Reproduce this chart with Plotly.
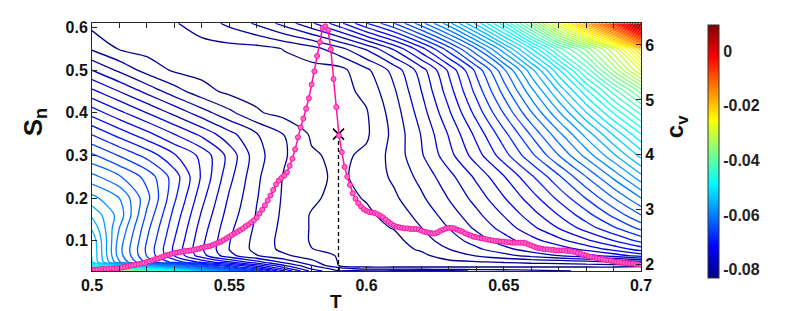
import plotly.graph_objects as go

# ---------------- data ----------------
T_grid = [0.50, 0.51, 0.52, 0.53, 0.54, 0.55, 0.56, 0.57, 0.58, 0.59, 0.60,
          0.61, 0.62, 0.63, 0.64, 0.65, 0.66, 0.67, 0.68, 0.69, 0.70]
S_grid = [0.029, 0.035, 0.042, 0.05, 0.065, 0.08, 0.10, 0.13, 0.16, 0.20,
          0.25, 0.30, 0.35, 0.40, 0.45, 0.50, 0.55, 0.61]

# free-energy surface, in units of 1e-3 (rows follow S_grid, columns T_grid)
F_milli = [
    [-25, -32, -40, -47, -54, -60, -66, -72, -77, -79.5, -78.0, -78.4, -78.8, -79.2, -79.6, -80.0, -80.4, -80.8, -81.2, -81.6, -82.0],
    [-37.8, -43.2, -49.5, -54.9, -60.4, -65.1, -69.7, -74.4, -78.3, -80.3, -82.0, -82.0, -82.0, -82.0, -82.0, -82.0, -82.0, -82.0, -82.0, -82.0, -82.0],
    [-48.2, -52.4, -57.2, -61.4, -65.6, -69.2, -72.8, -76.4, -79.4, -82.6, -83, -83, -83, -83, -83, -83, -83, -83, -83, -83, -82.8],
    [-52.4, -59.8, -65.0, -68.0, -70.9, -73.4, -75.9, -78.4, -80.5, -82.6, -82.9, -83, -83, -82.8, -82.6, -82.4, -82.2, -82.0, -81.6, -81.0, -80.0],
    [-52.5, -60.8, -66.1, -70.5, -74.4, -77.5, -79.4, -80.7, -81.8, -82.6, -82.9, -83, -82.8, -81.8, -80.9, -80.0, -79.0, -78.0, -77.0, -75.8, -74.3],
    [-52.5, -61.0, -66.3, -70.8, -74.8, -78.0, -80.0, -81.4, -82.45, -82.8, -83, -83, -82.3, -81.0, -79.8, -78.5, -77.2, -75.9, -74.5, -73.0, -71.3],
    [-52.8, -60.7, -66.0, -70.5, -74.6, -77.9, -80.0, -81.5, -82.6, -83.0, -83.0, -83.0, -81.6, -80.3, -78.8, -77.2, -75.6, -74.0, -72.3, -70.5, -68.5],
    [-54.2, -60.0, -65.5, -70.0, -74.2, -77.6, -79.8, -81.4, -82.6, -83.0, -83.0, -82.4, -81.0, -79.45, -77.7, -75.9, -73.9, -71.9, -69.8, -67.7, -65.5],
    [-55.8, -59.1, -64.8, -69.5, -73.7, -77.2, -79.6, -81.3, -82.6, -83.0, -82.8, -81.86, -80.47, -78.8, -76.9, -74.9, -72.7, -70.45, -68.1, -65.6, -63.0],
    [-58.0, -60.0, -64.0, -68.7, -73.0, -76.7, -79.4, -81.2, -82.2, -83.0, -82.35, -81.26, -79.74, -77.9, -75.9, -73.6, -71.2, -68.6, -65.9, -63.0, -60.0],
    [-61.0, -62.8, -65.0, -68.2, -72.2, -76.0, -79.2, -81.1, -82.1, -82.75, -82.0, -80.7, -79.0, -77.0, -74.65, -72.1, -69.25, -66.25, -63.0, -59.6, -56.0],
    [-64.2, -66.1, -68.0, -70.3, -72.4, -75.5, -78.9, -80.8, -82.3, -82.8, -82.19, -80.43, -78.16, -75.55, -72.7, -69.64, -66.4, -63.0, -59.46, -55.79, -52.0],
    [-67.6, -69.6, -71.5, -73.5, -75.4, -77.5, -79.4, -81.0, -82.7, -83.0, -82.7, -80.56, -77.89, -74.84, -71.53, -68.0, -64.28, -60.42, -56.4, -52.26, -48.0],
    [-71.1, -73.1, -75.0, -76.9, -78.8, -80.6, -82.3, -83.0, -83.0, -83.0, -82.6, -80.28, -77.22, -73.73, -69.94, -65.89, -61.64, -57.22, -52.61, -47.87, -43.0],
    [-74.6, -76.5, -78.4, -80.3, -81.9, -82.85, -83.0, -83.0, -83.0, -83.0, -82.12, -79.72, -76.49, -72.71, -68.51, -63.94, -59.07, -53.93, -48.51, -42.87, -37.0],
    [-78.0, -79.8, -81.6, -82.7, -83.0, -83.0, -83.0, -83.0, -83.0, -83.0, -81.32, -78.94, -75.69, -71.71, -67.08, -61.84, -56.07, -49.77, -42.97, -35.71, -28.0],
    [-81.2, -82.6, -83.0, -83.0, -83.0, -83.0, -83.0, -82.42, -81.62, -80.04, -77.74, -74.73, -71.03, -66.66, -61.62, -55.93, -49.61, -42.66, -37.0, -30.0, -20.0],
    [-83.0, -83.0, -82.9, -82.6, -81.8, -80.6, -79.2, -77.4, -75.2, -72.5, -69.0, -66.0, -62.0, -57.5, -52.0, -45.5, -37.0, -27.0, -17.0, -5.5, 9.5],
]

T_cv = [0.500, 0.501, 0.502, 0.503, 0.504, 0.505, 0.506, 0.507, 0.508, 0.509,
        0.510, 0.511, 0.512, 0.513, 0.514, 0.515, 0.516, 0.517, 0.518, 0.519,
        0.520, 0.521, 0.522, 0.523, 0.524, 0.525, 0.526, 0.527, 0.528, 0.529,
        0.530, 0.531, 0.532, 0.533, 0.534, 0.535, 0.536, 0.537, 0.538, 0.539,
        0.540, 0.541, 0.542, 0.543, 0.544, 0.545, 0.546, 0.547, 0.548, 0.549,
        0.550, 0.551, 0.552, 0.553, 0.554, 0.555, 0.556, 0.557, 0.558, 0.559,
        0.560, 0.561, 0.562, 0.563, 0.564, 0.565, 0.566, 0.567, 0.568, 0.569,
        0.570, 0.571, 0.572, 0.573, 0.574, 0.575, 0.576, 0.577, 0.578, 0.579,
        0.580, 0.581, 0.582, 0.583, 0.584, 0.585, 0.586, 0.587, 0.588, 0.589,
        0.590, 0.591, 0.592, 0.593, 0.594, 0.595, 0.596, 0.597, 0.598, 0.599,
        0.600, 0.601, 0.602, 0.603, 0.604, 0.605, 0.606, 0.607, 0.608, 0.609,
        0.610, 0.611, 0.612, 0.613, 0.614, 0.615, 0.616, 0.617, 0.618, 0.619,
        0.620, 0.621, 0.622, 0.623, 0.624, 0.625, 0.626, 0.627, 0.628, 0.629,
        0.630, 0.631, 0.632, 0.633, 0.634, 0.635, 0.636, 0.637, 0.638, 0.639,
        0.640, 0.641, 0.642, 0.643, 0.644, 0.645, 0.646, 0.647, 0.648, 0.649,
        0.650, 0.651, 0.652, 0.653, 0.654, 0.655, 0.656, 0.657, 0.658, 0.659,
        0.660, 0.661, 0.662, 0.663, 0.664, 0.665, 0.666, 0.667, 0.668, 0.669,
        0.670, 0.671, 0.672, 0.673, 0.674, 0.675, 0.676, 0.677, 0.678, 0.679,
        0.680, 0.681, 0.682, 0.683, 0.684, 0.685, 0.686, 0.687, 0.688, 0.689,
        0.690, 0.691, 0.692, 0.693, 0.694, 0.695, 0.696, 0.697, 0.698, 0.699,
        0.700]
cv = [1.91, 1.91, 1.91, 1.92, 1.92, 1.92, 1.92, 1.93, 1.93, 1.94,
      1.94, 1.95, 1.96, 1.97, 1.98, 1.99, 2.00, 2.01, 2.02, 2.03,
      2.05, 2.06, 2.08, 2.10, 2.11, 2.13, 2.15, 2.17, 2.18, 2.20,
      2.21, 2.22, 2.23, 2.24, 2.25, 2.25, 2.26, 2.27, 2.28, 2.29,
      2.31, 2.32, 2.33, 2.34, 2.36, 2.38, 2.40, 2.42, 2.45, 2.48,
      2.51, 2.54, 2.57, 2.60, 2.63, 2.66, 2.70, 2.73, 2.77, 2.81,
      2.86, 2.93, 3.00, 3.08, 3.17, 3.26, 3.36, 3.46, 3.53, 3.58,
      3.62, 3.68, 3.80, 3.93, 4.10, 4.32, 4.50, 4.66, 4.84, 5.03,
      5.28, 5.52, 5.80, 6.05, 6.31, 6.34, 6.27, 5.92, 5.38, 4.87,
      4.35, 4.05, 3.78, 3.60, 3.45, 3.30, 3.20, 3.12, 3.06, 3.01,
      2.98, 2.96, 2.95, 2.94, 2.92, 2.89, 2.86, 2.82, 2.78, 2.74,
      2.71, 2.69, 2.68, 2.67, 2.66, 2.66, 2.65, 2.65, 2.65, 2.64,
      2.62, 2.60, 2.59, 2.58, 2.57, 2.57, 2.59, 2.62, 2.64, 2.66,
      2.67, 2.67, 2.66, 2.64, 2.62, 2.60, 2.57, 2.55, 2.53, 2.51,
      2.50, 2.49, 2.48, 2.47, 2.46, 2.45, 2.44, 2.43, 2.43, 2.42,
      2.42, 2.41, 2.41, 2.40, 2.40, 2.40, 2.40, 2.40, 2.39, 2.37,
      2.35, 2.33, 2.31, 2.30, 2.29, 2.28, 2.28, 2.27, 2.27, 2.26,
      2.26, 2.26, 2.26, 2.25, 2.25, 2.24, 2.23, 2.21, 2.20, 2.18,
      2.17, 2.15, 2.14, 2.13, 2.12, 2.11, 2.10, 2.09, 2.08, 2.07,
      2.06, 2.05, 2.05, 2.04, 2.03, 2.03, 2.02, 2.02, 2.01, 2.01,
      2.00]

T_mark = 0.5898
S_mark = 0.350

x_ticks = [0.5, 0.55, 0.6, 0.65, 0.7]
x_ticktext = ['0.5', '0.55', '0.6', '0.65', '0.7']
y_ticks = [0.1, 0.2, 0.3, 0.4, 0.5, 0.6]
y_ticktext = ['0.1', '0.2', '0.3', '0.4', '0.5', '0.6']
y2_ticks = [2, 3, 4, 5, 6]
cb_ticks = [-0.08, -0.06, -0.04, -0.02, 0]
cb_ticktext = ['-0.08', '-0.06', '-0.04', '-0.02', '0']

# ---------------- figure ----------------
Z = [[v * 1e-3 for v in row] for row in F_milli]
ZMIN, ZMAX = -0.083, 0.0097
jet = [[0.0, 'rgb(0,0,135)'], [0.125, 'rgb(0,0,255)'], [0.375, 'rgb(0,255,255)'],
       [0.625, 'rgb(255,255,0)'], [0.875, 'rgb(255,0,0)'], [1.0, 'rgb(128,0,0)']]

FONT = 'Liberation Sans, Arial, sans-serif'
AX = '#262626'

# the page body adds an 8 px margin, so the figure is sized to fit the window
OFF = 8
WIN_W, WIN_H = 789, 311
FIG_W, FIG_H = WIN_W - OFF, WIN_H - OFF
# plot area in window pixels
PLOT_L, PLOT_R, PLOT_T, PLOT_B = 92, 641, 19.5, 270.7
PW, PH = PLOT_R - PLOT_L, PLOT_B - PLOT_T


def px_x(px):
    return (px - PLOT_L) / PW


def px_y(py):
    return (PLOT_B - py) / PH


fig = go.Figure()
fig.add_trace(go.Contour(
    x=T_grid, y=S_grid, z=Z,
    colorscale=jet, zmin=ZMIN, zmax=ZMAX, zauto=False,
    autocontour=False,
    contours=dict(start=-0.08248, end=0.00952, size=0.0015, coloring='lines'),
    line=dict(width=1.3, smoothing=0.8),
    showscale=False, hoverinfo='skip'))

# continuous colorbar through a hidden trace
fig.add_trace(go.Scatter(
    x=[0.6], y=[0.3], mode='markers', hoverinfo='skip', showlegend=False,
    marker=dict(size=0.1, opacity=0, color=[-0.04], colorscale=jet,
                cmin=ZMIN, cmax=ZMAX, showscale=True,
                colorbar=dict(x=px_x(707.7), xanchor='left', xpad=0,
                              y=px_y(149.35), yanchor='middle', ypad=0,
                              len=253, lenmode='pixels',
                              thickness=11, thicknessmode='pixels',
                              outlinewidth=1, outlinecolor='#333',
                              tickvals=cb_ticks, ticktext=cb_ticktext,
                              ticks='',
                              tickfont=dict(family=FONT, size=16, color='#222', weight='bold')))))

# dashed vertical line and cross marker
fig.add_trace(go.Scatter(x=[T_mark, T_mark], y=[S_grid[0], S_mark - 0.013], mode='lines',
                         line=dict(color='black', width=1.3, dash='4px,3px'),
                         hoverinfo='skip', showlegend=False))
fig.add_trace(go.Scatter(x=[T_mark], y=[S_mark], mode='markers',
                         marker=dict(symbol='x-thin', size=11, line=dict(color='black', width=1.6)),
                         hoverinfo='skip', showlegend=False))

# specific heat curve
fig.add_trace(go.Scatter(x=T_cv, y=cv, yaxis='y2', mode='lines+markers',
                         line=dict(color='#ff10a6', width=1.5),
                         marker=dict(symbol='circle', size=5, color='#ff6cc6',
                                     line=dict(color='#ff10a6', width=1)),
                         hoverinfo='skip', showlegend=False))

tickfont = dict(family=FONT, size=16, color='#111', weight='bold')
fig.update_layout(
    width=FIG_W, height=FIG_H,
    margin=dict(l=PLOT_L - OFF, r=FIG_W - (PLOT_R - OFF), t=PLOT_T - OFF,
                b=FIG_H - (PLOT_B - OFF), pad=0),
    paper_bgcolor='white', plot_bgcolor='white',
    showlegend=False,
    xaxis=dict(range=[0.5, 0.7], tickvals=x_ticks, ticktext=x_ticktext,
               ticks='inside', ticklen=5, tickcolor=AX, showline=True, linecolor=AX,
               linewidth=1, mirror='ticks', showgrid=False, zeroline=False,
               tickfont=tickfont,
               minor=dict(dtick=0.01, tick0=0.5, ticks='inside', ticklen=5, tickcolor=AX)),
    yaxis=dict(range=[0.029, 0.6104], tickvals=y_ticks, ticktext=y_ticktext,
               ticks='inside', ticklen=5, tickcolor=AX, showline=True, linecolor=AX,
               linewidth=1, showgrid=False, zeroline=False, tickfont=tickfont),
    yaxis2=dict(range=[1.885, 6.40], overlaying='y', side='right',
                tickvals=y2_ticks, ticks='inside', ticklen=5, tickcolor=AX,
                showline=True, linecolor=AX, linewidth=1, showgrid=False,
                zeroline=False, tickfont=tickfont),
    annotations=[
        dict(text='<b>S<sub>n</sub></b>', xref='paper', yref='paper',
             x=px_x(34), y=px_y(120), textangle=-90,
             showarrow=False, font=dict(family=FONT, size=26, color='#111'),
             xanchor='center', yanchor='middle'),
        dict(text='<b>T</b>', xref='paper', yref='paper',
             x=px_x(336), y=px_y(302),
             showarrow=False, font=dict(family=FONT, size=19, color='#111'),
             xanchor='center', yanchor='middle'),
        dict(text='<b>c<sub>v</sub></b>', xref='paper', yref='paper',
             x=px_x(676), y=px_y(125), textangle=-90,
             showarrow=False, font=dict(family=FONT, size=24, color='#111'),
             xanchor='center', yanchor='middle'),
    ],
)

fig.write_html('out.html')
